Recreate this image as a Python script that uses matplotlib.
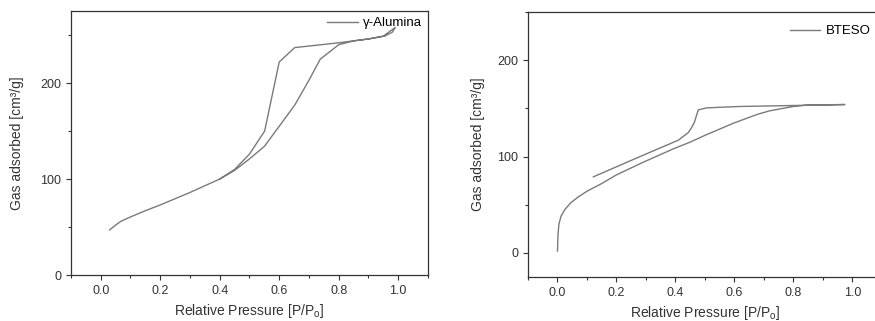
import numpy as np
import matplotlib
matplotlib.use("Agg")
import matplotlib.pyplot as plt
from matplotlib.ticker import MultipleLocator

plt.rcParams['font.family'] = ['Liberation Sans', 'DejaVu Sans']

# gamma-alumina isotherm: adsorption branch then desorption branch back
alu_ads_x = [0.03, 0.05, 0.068, 0.10, 0.15, 0.20, 0.30, 0.40, 0.45, 0.50, 0.55,
             0.60, 0.652, 0.70, 0.738, 0.80, 0.85, 0.90, 0.955, 0.98, 0.99]
alu_ads_y = [47, 52, 56, 60.5, 67, 73, 86, 100, 109, 121, 134,
             155, 177, 203, 225, 240, 244, 246, 249, 253, 258]
alu_des_x = [0.99, 0.95, 0.90, 0.80, 0.652, 0.60, 0.551, 0.50, 0.45, 0.40]
alu_des_y = [258, 249, 246, 242, 237, 222, 150, 126, 110, 100]

# BTESO isotherm
bt_ads_x = [0.0, 0.002, 0.005, 0.012, 0.025, 0.045, 0.07, 0.10, 0.15, 0.20,
            0.29, 0.393, 0.45, 0.50, 0.60, 0.68, 0.72, 0.80, 0.85, 0.975]
bt_ads_y = [2, 20, 30, 38, 45, 52, 58, 64, 72, 81,
            94, 108, 115, 122, 135, 144, 147.5, 152, 153.5, 154]
bt_des_x = [0.975, 0.80, 0.62, 0.54, 0.506, 0.478, 0.472, 0.465, 0.455,
            0.444, 0.427, 0.41, 0.28, 0.122]
bt_des_y = [154, 153, 152, 151, 150.5, 148.5, 143, 136, 130,
            125, 121, 117, 100, 79]

line_col = '#7a7a7a'
ax_col = '#333333'

fig = plt.figure(figsize=(8.75, 3.21), dpi=100)
ax1 = fig.add_axes([0.0811, 0.1433, 0.408, 0.822])
ax2 = fig.add_axes([0.6034, 0.137, 0.4043, 0.8255])


def style(ax, ylim, ylab_x):
    ax.set_xlim(-0.1, 1.1)
    ax.set_ylim(*ylim)
    ax.xaxis.set_major_locator(MultipleLocator(0.2))
    ax.xaxis.set_minor_locator(MultipleLocator(0.1))
    ax.yaxis.set_major_locator(MultipleLocator(100))
    ax.yaxis.set_minor_locator(MultipleLocator(50))
    ax.tick_params(which='both', direction='out', colors=ax_col, labelsize=9,
                   top=False, right=False, width=0.8)
    ax.tick_params(which='major', length=3.5)
    ax.tick_params(which='minor', length=2)
    ax.xaxis.set_major_formatter(plt.FuncFormatter(lambda v, p: "%.1f" % v))
    for s in ax.spines.values():
        s.set_color(ax_col)
        s.set_linewidth(0.9)
    ax.set_xlabel("Relative Pressure [P/P$_\\mathregular{o}$]", fontsize=10,
                  color=ax_col, labelpad=4)
    ax.set_ylabel("Gas adsorbed [cm³/g]", fontsize=10, color=ax_col)
    ax.yaxis.set_label_coords(ylab_x, 0.5)


ax1.plot(alu_ads_x + alu_des_x, alu_ads_y + alu_des_y, color=line_col, lw=1,
         label="γ-Alumina")
style(ax1, (0, 275), -0.132)
ax1.legend(loc='center left', bbox_to_anchor=(0.70, 0.955), frameon=False,
           fontsize=9.5, borderpad=0, handlelength=2.3, handletextpad=0.4)

ax2.plot(bt_ads_x + bt_des_x, bt_ads_y + bt_des_y, color=line_col, lw=1,
         label="BTESO")
style(ax2, (-25, 250), -0.122)
ax2.legend(loc='center left', bbox_to_anchor=(0.722, 0.928), frameon=False,
           fontsize=9.5, borderpad=0, handlelength=2.3, handletextpad=0.4)

fig.savefig("out.png", dpi=100)
